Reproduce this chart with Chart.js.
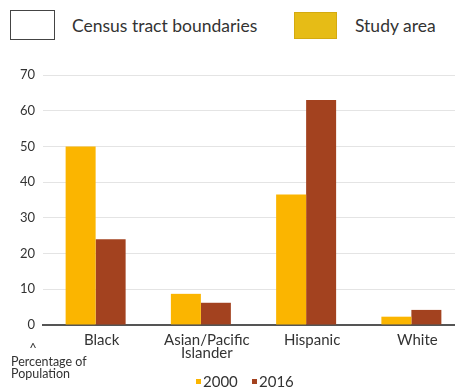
<!DOCTYPE html>
<html>
<head>
<meta charset="utf-8">
<script src="https://cdn.jsdelivr.net/npm/chart.js@4.4.1/dist/chart.umd.min.js"></script>
<style>
  html, body { margin: 0; padding: 0; width: 455px; height: 391px; overflow: hidden; background: #fff; }
  body { position: relative; font-family: Lato, "Open Sans", sans-serif; color: #333; }
  #mapKey { position: absolute; left: 0; top: 0; width: 455px; height: 50px; }
  .swatch { position: absolute; box-sizing: border-box; }
  .keyText { position: absolute; font-size: 17.5px; line-height: 20px; color: #333; white-space: nowrap; }
  #chartBox { position: absolute; left: 0; top: 0; }
</style>
</head>
<body>
<div id="mapKey">
  <div class="swatch" style="left:10px; top:10px; width:45px; height:30px; border:1.5px solid #444; background:#fff;"></div>
  <div class="keyText" style="left:72px; top:16px;">Census tract boundaries</div>
  <div class="swatch" style="left:294px; top:12px; width:43px; height:27px; background:#E6BC16; border:1px solid #d4aa10;"></div>
  <div class="keyText" style="left:355px; top:16px;">Study area</div>
</div>
<div id="chartBox"><canvas id="chart" width="470" height="391"></canvas></div>
<script>
const categories = ["Black", ["Asian/Pacific", "Islander"], "Hispanic", "White"];
const series2000 = [50, 8.7, 36.5, 2.3];
const series2016 = [24, 6.2, 63, 4.2];
const seriesNames = ["2000", "2016"];
const yTicks = [0, 10, 20, 30, 40, 50, 60, 70];

const FONT = "Lato, 'Open Sans', sans-serif";
const TEXT = "#333";

// Axis caption under the y-axis labels, plus a compact series key
const extraText = {
  id: "extraText",
  afterDraw(chart) {
    const ctx = chart.ctx;
    ctx.save();
    ctx.fillStyle = TEXT;
    ctx.textBaseline = "middle";
    ctx.font = "13px " + FONT;
    ctx.textAlign = "center";
    ctx.fillText("^", 33, 349);
    ctx.textAlign = "left";
    ctx.font = "12.5px " + FONT;
    ctx.fillText("Percentage of", 11, 362);
    ctx.fillText("Population", 11, 374);

    // series key
    const starts = [196, 252];
    ctx.font = "15px " + FONT;
    chart.data.datasets.forEach((ds, i) => {
      const x = starts[i];
      ctx.fillStyle = ds.backgroundColor;
      ctx.fillRect(x, 379, 5, 5);
      ctx.fillStyle = TEXT;
      ctx.fillText(ds.label, x + 7, 382);
    });
    ctx.restore();
  }
};

new Chart(document.getElementById("chart"), {
  type: "bar",
  data: {
    labels: categories,
    datasets: [
      { label: seriesNames[0], data: series2000, backgroundColor: "#FBB500" },
      { label: seriesNames[1], data: series2016, backgroundColor: "#A3421F" }
    ]
  },
  options: {
    responsive: false,
    animation: false,
    devicePixelRatio: 1,
    categoryPercentage: 0.57,
    barPercentage: 1.0,
    layout: { padding: { top: 75, right: 6, left: 0, bottom: 30 } },
    plugins: {
      tooltip: { enabled: false },
      legend: { display: false }
    },
    scales: {
      x: {
        grid: { display: false },
        border: { display: true, color: "#555", width: 2 },
        ticks: {
          color: TEXT,
          font: { family: FONT, size: 15, lineHeight: 0.87 },
          padding: 1,
          labelOffset: 6,
          maxRotation: 0,
          autoSkip: false
        }
      },
      y: {
        min: 0,
        max: 70,
        afterFit(scale) { scale.width = 43; },
        afterBuildTicks(scale) { scale.ticks = yTicks.map(v => ({ value: v })); },
        border: { display: false },
        grid: {
          drawTicks: false,
          color: ctx => ctx.tick && ctx.tick.value === 0 ? "rgba(0,0,0,0)" : "#e4e4e4",
          lineWidth: 1
        },
        ticks: { color: TEXT, font: { family: FONT, size: 13 }, padding: 8 }
      }
    }
  },
  plugins: [extraText]
});
</script>
</body>
</html>
